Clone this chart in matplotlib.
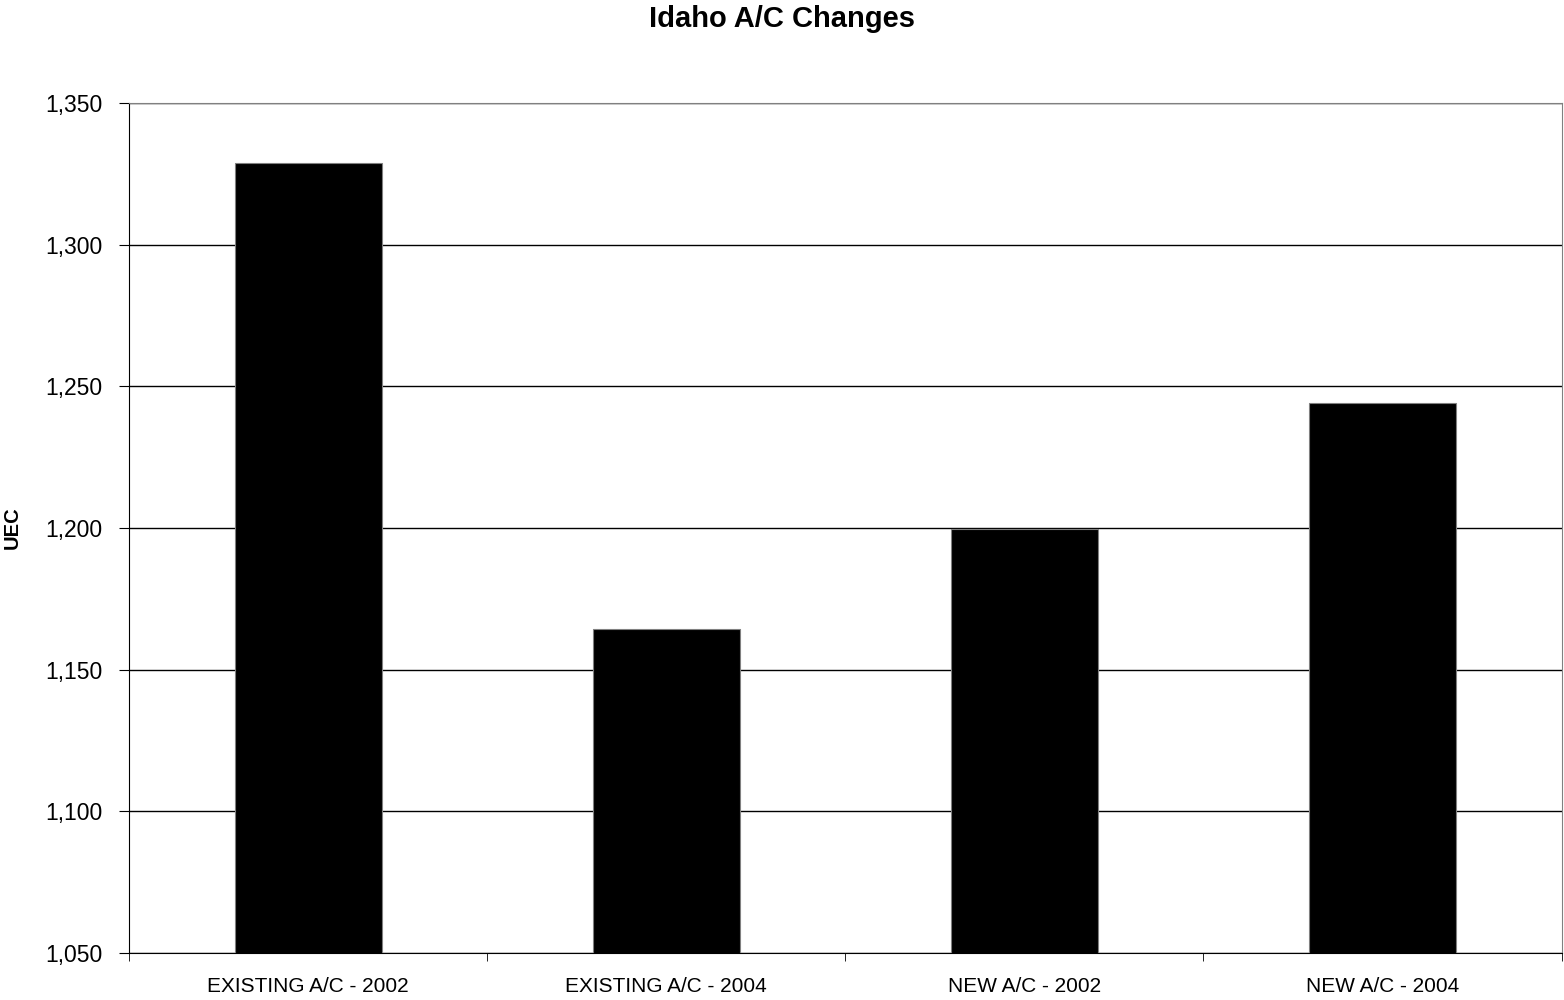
import matplotlib.pyplot as plt
from matplotlib.ticker import FuncFormatter, MultipleLocator
import numpy as np

# Données
categories = ["EXISTING A/C - 2002", "EXISTING A/C - 2004", "NEW A/C - 2002", "NEW A/C - 2004"]
uec = [1329, 1164.5, 1199.5, 1244]

plt.rcParams['font.family'] = ['Liberation Sans', 'DejaVu Sans']

fig = plt.figure(figsize=(15.64, 10), dpi=100)
ax = fig.add_axes([0.0825, 0.047, 0.916, 0.85])

x = np.arange(len(categories))
ax.bar(x, uec, width=0.41, color='black', edgecolor='#808080', linewidth=0.8, zorder=3)

ax.set_ylim(1050, 1350)
ax.set_xlim(-0.5, len(categories) - 0.5)
ax.yaxis.set_major_locator(MultipleLocator(50))
ax.yaxis.set_major_formatter(FuncFormatter(lambda v, p: f"{int(v):,}"))
ax.yaxis.grid(True, color='black', linewidth=1.0, zorder=0)

ax.set_xticks(x)
ax.set_xticklabels(categories)
ax.set_xticks(np.arange(-0.5, len(categories)), minor=True)
ax.tick_params(axis='x', which='major', length=0, pad=17, labelsize=15)
ax.tick_params(axis='x', which='minor', length=6, direction='out')
ax.tick_params(axis='y', length=7, direction='out', pad=12, labelsize=16.5)

for s in ['top', 'right']:
    ax.spines[s].set_color('#808080')
ax.spines['left'].set_color('black')
ax.spines['bottom'].set_color('black')

ax.set_ylabel("UEC", fontsize=14.5, fontweight='bold', labelpad=17)
fig.suptitle("Idaho A/C Changes", fontsize=21, fontweight='bold', y=0.995)

plt.savefig("out.png", dpi=100)
